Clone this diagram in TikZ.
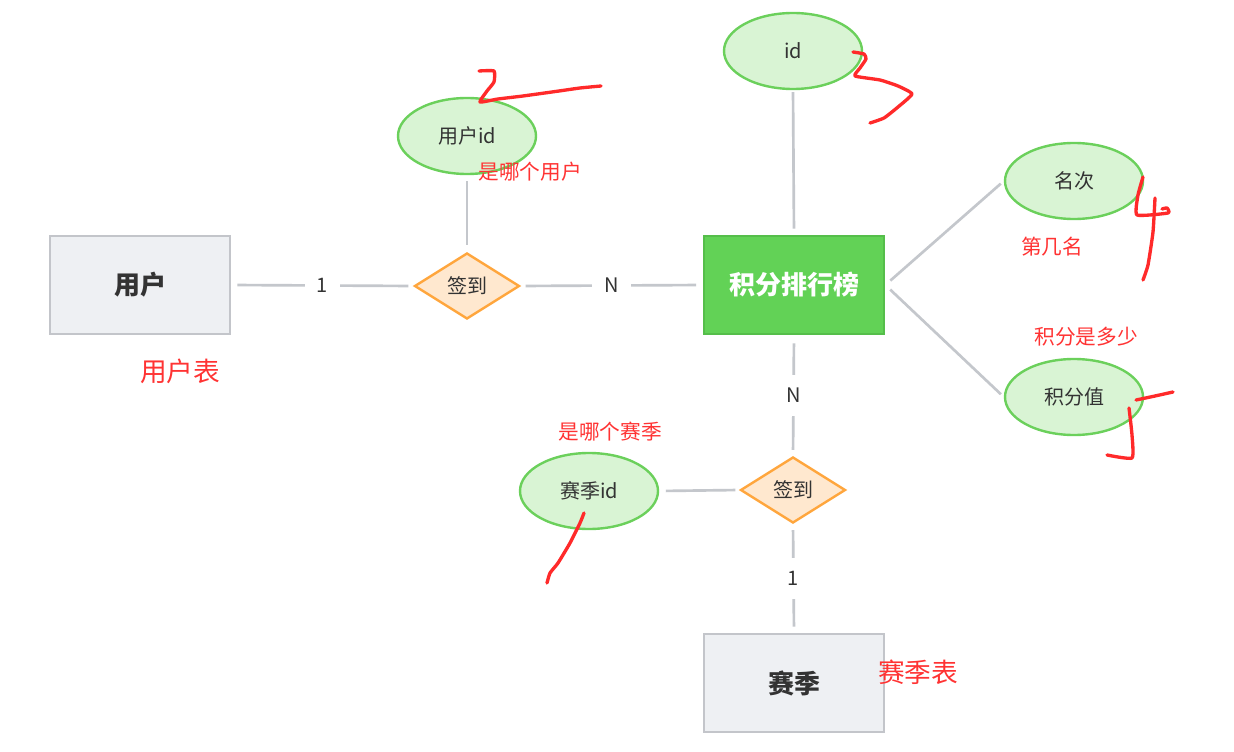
\documentclass[tikz,border=0pt]{standalone}
\usepackage{fontspec}
\setmainfont{Noto Sans CJK SC}
\usetikzlibrary{shapes.geometric}
\definecolor{entline}{HTML}{C3C5CA}
\definecolor{entfill}{HTML}{EEF0F3}
\definecolor{rankfill}{HTML}{62D256}
\definecolor{rankline}{HTML}{55BE4A}
\definecolor{attrfill}{HTML}{D9F4D4}
\definecolor{attrline}{HTML}{6BD05B}
\definecolor{relfill}{HTML}{FFE8CF}
\definecolor{relline}{HTML}{FFA63D}
\definecolor{lnk}{HTML}{C4C7CC}
\definecolor{txt}{HTML}{333333}
\definecolor{notered}{HTML}{FF3333}
\definecolor{penred}{HTML}{FF2A2A}
\begin{document}
\begin{tikzpicture}[x=0.75pt,y=-0.75pt,
  entity/.style={rectangle, draw=entline, fill=entfill, line width=2pt,
    minimum width=135pt, minimum height=73.5pt, inner sep=0pt,
    font=\fontsize{19.5}{22}\selectfont\bfseries, text=txt},
  mainent/.style={entity, draw=rankline, fill=rankfill, text=white},
  attr/.style={ellipse, draw=attrline, fill=attrfill, line width=1.8pt,
    minimum width=103.5pt, minimum height=57pt, inner sep=0pt,
    font=\fontsize{15}{18}\selectfont, text=txt},
  rel/.style={diamond, draw=relline, fill=relfill, line width=1.8pt,
    minimum width=78.75pt, minimum height=49.5pt, inner sep=0pt, aspect=1.6,
    font=\fontsize{15}{18}\selectfont, text=txt},
  conn/.style={draw=lnk, line width=2pt},
  hcard/.style={fill=white, font=\fontsize{15}{18}\selectfont, text=txt, inner xsep=9pt, inner ysep=0pt},
  vcard/.style={fill=white, font=\fontsize{15}{18}\selectfont, text=txt, inner xsep=0pt, inner ysep=10pt},
  note/.style={text=notered, font=\fontsize{15.5}{18}\selectfont, inner sep=0pt},
  bignote/.style={note, font=\fontsize{20}{24}\selectfont},
  pen/.style={draw=penred, line width=2.5pt, line cap=round, line join=round}
]
\path[use as bounding box, fill=white] (0,0) rectangle (1234,752);

% entities
\node[entity] (user) at (140,285) {用户};
\node[mainent] (rank) at (794,285) {积分排行榜};
\node[entity] (season) at (794,683) {赛季};

% relationships
\node[rel] (rel1) at (467,286) {签到};
\node[rel] (rel2) at (793,490) {签到};

% attributes
\node[attr] (uid) at (467,136) {用户id};
\node[attr] (id) at (793,51) {id};
\node[attr] (rnk) at (1074,181) {名次};
\node[attr] (val) at (1074,397) {积分值};
\node[attr] (sid) at (589,491) {赛季id};

% connectors
\draw[conn, shorten <=4.5pt, shorten >=3.75pt] (user.east) -- node[hcard]{1} (rel1.west);
\draw[conn, shorten <=3.75pt, shorten >=5pt] (rel1.east) -- node[hcard]{N} (rank.west);
\draw[conn, shorten <=4.5pt, shorten >=5pt] (uid.south) -- (rel1.north);
\draw[conn, shorten <=1.5pt, shorten >=4.5pt] (id.south) -- (rank.north);
\draw[conn, shorten <=5pt, shorten >=3pt] (rank.east) -- (rnk.west);
\draw[conn, shorten <=5pt, shorten >=3pt] (rank.east) -- (val.west);
\draw[conn, shorten <=6pt, shorten >=4.5pt] (rank.south) -- node[vcard]{N} (rel2.north);
\draw[conn, shorten <=4.5pt, shorten >=4.5pt] (rel2.south) -- node[vcard]{1} (season.north);
\draw[conn, shorten <=5pt, shorten >=3pt] (sid.east) -- (rel2.west);

% red notes
\node[bignote] (n1) at (180,371) {用户表};
\node[note] (n2) at (530,172) {是哪个用户};
\node[note] (n3) at (1052,247) {第几名};
\node[note] (n4) at (1086,337) {积分是多少};
\node[note] (n5) at (610,432) {是哪个赛季};
\node[bignote] (n6) at (918,672) {赛季表};

% handwritten marks
\draw[pen] plot[smooth, tension=0.3] coordinates {(479,71) (494,71) (494,82) (487,91) (480,102) (498,99) (523,96) (559,91) (580,88) (601,86)};
\draw[pen] plot[smooth, tension=0.3] coordinates {(853,52) (864,54) (866,59) (860,68) (855,76) (880,80) (898,86) (912,94) (898,107) (884,118) (870,123)};
\draw[pen] plot[smooth, tension=0.3] coordinates {(1143,177) (1138,195) (1137,215) (1168,213) (1167,208) (1162,209)};
\draw[pen] plot[smooth, tension=0.3] coordinates {(1155,198) (1153,232) (1148,265) (1143,280)};
\draw[pen] plot[smooth, tension=0.3] coordinates {(1136,400) (1155,396) (1173,392)};
\draw[pen] plot[smooth, tension=0.3] coordinates {(1129,408) (1132,435) (1132,458) (1107,455)};
\draw[pen] plot[smooth, tension=0.3] coordinates {(584,513) (580,523) (570,543) (558,563) (550,573) (547,583)};
\end{tikzpicture}
\end{document}
